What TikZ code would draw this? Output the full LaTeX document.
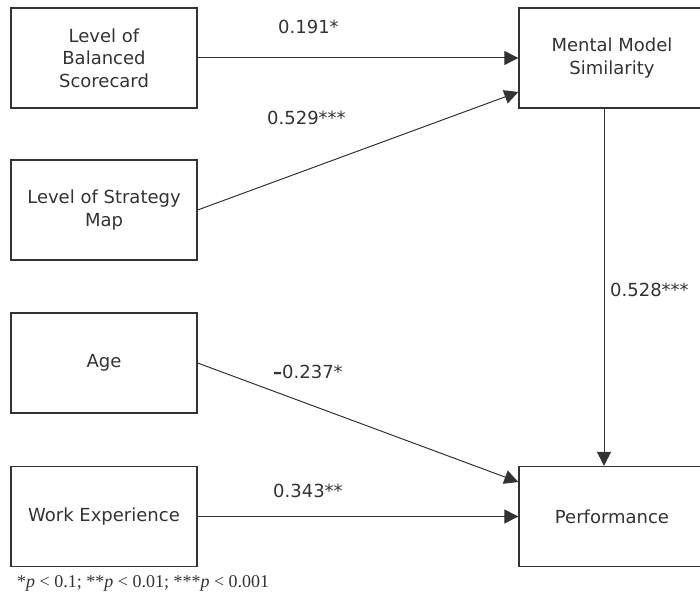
\documentclass[tikz,border=0pt]{standalone}
\usepackage{fontspec}
\setmainfont{DejaVu Sans}
\newfontfamily\notefont{Liberation Serif}
\usetikzlibrary{arrows.meta}
\definecolor{ink}{HTML}{333333}
\tikzset{
  varbox/.style={draw=ink, line width=1.3bp, rectangle, minimum width=186bp,
    minimum height=100bp, align=center, text=ink,
    font=\fontsize{18bp}{22.5bp}\selectfont, inner sep=0pt},
  pathline/.style={draw=ink, line width=1bp, -{Triangle[length=14bp,width=14bp]}},
  coef/.style={text=ink, font=\fontsize{18bp}{22bp}\selectfont, inner sep=0pt}
}
\begin{document}
\begin{tikzpicture}[x=1bp,y=-1bp]
  \useasboundingbox (0,0) rectangle (700,594);
  \begin{scope}
    \clip (0,0) rectangle (700,594);
    % predictors
    \node[varbox] (bsc)  at (104,58)    {Level of\\Balanced\\Scorecard};
    \node[varbox] (smap) at (104,210)   {Level of Strategy\\Map};
    \node[varbox] (age)  at (104,363)   {Age};
    \node[varbox] (work) at (104,516.5) {Work Experience};
    % mediator and outcome
    \node[varbox] (mms)  at (612,58)    {Mental Model\\Similarity};
    \node[varbox] (perf) at (612,516.5) {Performance};
  \end{scope}
  % paths
  \draw[pathline] (bsc.east) -- (mms.west);
  \draw[pathline] (smap.east) -- ([yshift=-34bp]mms.west);
  \draw[pathline] ([xshift=-8bp]mms.south) -- ([xshift=-8bp]perf.north);
  \draw[pathline] (age.east) -- ([yshift=34.5bp]perf.west);
  \draw[pathline] (work.east) -- (perf.west);
  % coefficients
  \node[coef, anchor=west] (c1) at (278,27)  {0.191*};
  \node[coef, anchor=west] (c2) at (267,118) {0.529***};
  \node[coef, anchor=west] (c3) at (610,290) {0.528***};
  \node[coef, anchor=west] (c4) at (273,372) {\textbf{–}0.237*};
  \node[coef, anchor=west] (c5) at (273,491) {0.343**};
  % significance note
  \node[anchor=west, inner sep=0pt, text=ink, font=\notefont\fontsize{18bp}{20bp}\selectfont] (note) at (17,583)
    {*\textit{p} < 0.1; **\textit{p} < 0.01; ***\textit{p} < 0.001};
\end{tikzpicture}
\end{document}
